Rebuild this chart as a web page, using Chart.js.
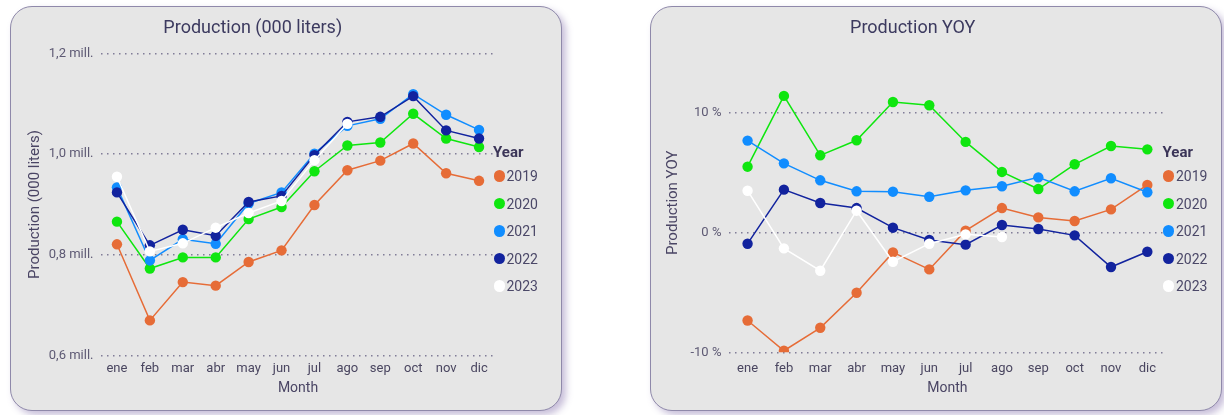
<!DOCTYPE html>
<html>
<head>
<meta charset="utf-8">
<script src="https://cdn.jsdelivr.net/npm/chart.js@4/dist/chart.umd.min.js"></script>
<style>
  html, body { margin: 0; padding: 0; background: #ffffff; width: 1224px; height: 415px; overflow: hidden; font-family: Roboto, sans-serif; }
  .card { position: absolute; box-sizing: border-box; background: #e6e6e6; border: 1.5px solid #8f89aa; border-radius: 22px; box-shadow: 4px 4px 7px rgba(130,110,170,0.45); }
  canvas { position: absolute; }
  .legend { position: absolute; top: 0; font-family: Roboto, sans-serif; }
  .legend .ttl { position: absolute; left: 0; top: 143px; font-size: 15px; line-height: 18px; font-weight: bold; color: #3b3558; white-space: nowrap; }
  .legend .dot { position: absolute; width: 11.4px; height: 11.4px; border-radius: 50%; }
  .legend .txt { position: absolute; font-size: 14px; line-height: 16px; color: #4b4868; white-space: nowrap; }
</style>
</head>
<body>
<div class="card" style="left:10px;top:6px;width:552px;height:405px"></div>
<div class="card" style="left:650px;top:6px;width:572px;height:405px"></div>
<canvas id="prodChart" style="left:10px;top:6px;width:552px;height:405px" width="552" height="405"></canvas>
<canvas id="yoyChart" style="left:650px;top:6px;width:572px;height:405px" width="572" height="405"></canvas>
<div class="legend" id="prodLegend" style="left:493px"></div>
<div class="legend" id="yoyLegend" style="left:1162.5px"></div>

<script>
// Month categories and year series
const months = ['ene', 'feb', 'mar', 'abr', 'may', 'jun', 'jul', 'ago', 'sep', 'oct', 'nov', 'dic'];
const years = ['2019', '2020', '2021', '2022', '2023'];
const yearColors = ['#E66C37', '#0FE60F', '#118DFF', '#12239E', '#FFFFFF'];

// Monthly production (000 liters)
const prod2019 = [821000, 670000, 746000, 739000, 786000, 809000, 899000, 968000, 987000, 1021000, 962000, 947000];
const prod2020 = [866000, 773000, 795000, 795000, 871000, 895000, 966000, 1017000, 1023000, 1080000, 1031000, 1014000];
const prod2021 = [934000, 789000, 831000, 822000, 902000, 924000, 1001000, 1056000, 1070000, 1119000, 1078000, 1048000];
const prod2022 = [924000, 819000, 850000, 838000, 905000, 917000, 998000, 1064000, 1074000, 1115000, 1047000, 1031000];
const prod2023 = [955000, 807000, 823000, 854000, 883000, 907000, 988000, 1060000];

// Year-over-year change (%)
const yoy2019 = [-7.34, -9.87, -7.95, -5.02, -1.65, -3.07, 0.17, 2.06, 1.28, 0.98, 1.95, 3.99];
const yoy2020 = [5.52, 11.44, 6.47, 7.73, 10.93, 10.66, 7.59, 5.08, 3.65, 5.72, 7.25, 6.97];
const yoy2021 = [7.70, 5.80, 4.38, 3.46, 3.43, 3.01, 3.54, 3.88, 4.63, 3.46, 4.55, 3.38];
const yoy2022 = [-0.92, 3.60, 2.48, 2.06, 0.42, -0.61, -1.00, 0.64, 0.31, -0.22, -2.87, -1.59];
const yoy2023 = [3.51, -1.31, -3.18, 1.84, -2.43, -0.92, -0.14, -0.36];

// Axis ticks
const prodTicks = [600000, 800000, 1000000, 1200000];
const yoyTicks = [-10, 0, 10];

Chart.defaults.font.family = 'Roboto, sans-serif';

const TITLE_COLOR = '#3c3a5f';
const TICK_COLOR = '#5e5a74';
const AXIS_TITLE_COLOR = '#4a4564';
const GRID_COLOR = 'rgba(95,90,125,0.75)';

function makeDatasets(seriesList) {
  return seriesList.map((data, i) => ({
    label: years[i],
    data: data,
    borderColor: yearColors[i],
    backgroundColor: yearColors[i],
    pointBackgroundColor: yearColors[i],
    pointBorderWidth: 0,
    pointRadius: 5.2,
    borderWidth: 1.5,
    tension: 0,
    order: seriesList.length - i   // later years drawn on top
  }));
}

function buildLegend(el, datasets) {
  const ttl = document.createElement('div');
  ttl.className = 'ttl';
  ttl.textContent = 'Year';
  el.appendChild(ttl);
  const centers = [176, 203.5, 231, 258.5, 286];
  datasets.forEach((ds, i) => {
    const dot = document.createElement('div');
    dot.className = 'dot';
    dot.style.background = ds.borderColor;
    dot.style.left = (6.3 - 5.7) + 'px';
    dot.style.top = (centers[i] - 5.7) + 'px';
    el.appendChild(dot);
    const txt = document.createElement('div');
    txt.className = 'txt';
    txt.textContent = ds.label;
    txt.style.left = '13.5px';
    txt.style.top = (centers[i] - 8) + 'px';
    el.appendChild(txt);
  });
}

function baseOptions(cfg) {
  return {
    responsive: false,
    animation: false,
    events: [],
    layout: { padding: { left: cfg.padLeft, right: cfg.padRight, top: 0, bottom: 0 } },
    plugins: {
      legend: { display: false },
      tooltip: { enabled: false },
      title: {
        display: true,
        text: cfg.title,
        color: TITLE_COLOR,
        font: { size: 18, weight: 'normal' },
        padding: { top: 11.7, bottom: 14 }
      }
    },
    scales: {
      x: {
        type: 'category',
        offset: true,
        grid: { display: false, drawTicks: false },
        border: { display: false },
        ticks: { color: '#4a4660', font: { size: 13 }, padding: cfg.xTickPad, maxRotation: 0, autoSkip: false },
        title: { display: true, text: 'Month', color: AXIS_TITLE_COLOR, font: { size: 14 }, padding: { top: 0, bottom: 14.3 } },
        afterFit: (s) => { s.height = cfg.xHeight; }
      },
      y: {
        min: cfg.yMin,
        max: cfg.yMax,
        grid: { color: GRID_COLOR, lineWidth: 1.5, drawTicks: false },
        border: { display: false, dash: [1.5, 4.5] },
        ticks: { color: TICK_COLOR, font: { size: 13 }, padding: cfg.yTickPad, callback: cfg.fmt },
        afterBuildTicks: (s) => { s.ticks = cfg.ticks.map(v => ({ value: v })); },
        title: { display: true, text: cfg.yTitle, color: AXIS_TITLE_COLOR, font: { size: 15 }, padding: { top: cfg.yTitlePad, bottom: 0 } },
        afterFit: (s) => { s.width = cfg.yWidth; }
      }
    }
  };
}

// Production chart
const prodSets = makeDatasets([prod2019, prod2020, prod2021, prod2022, prod2023]);
new Chart(document.getElementById('prodChart'), {
  type: 'line',
  data: { labels: months, datasets: prodSets },
  options: baseOptions({
    title: 'Production (000 liters)',
    padLeft: 0, padRight: 66.5,
    xHeight: 55.3, xTickPad: 4.8,
    yMin: 600000, yMax: 1200000, ticks: prodTicks,
    yWidth: 90.5, yTickPad: 7, yTitlePad: 16,
    yTitle: 'Production (000 liters)',
    fmt: (v) => (v / 1000000).toFixed(1).replace('.', ',') + ' mill.'
  })
});
buildLegend(document.getElementById('prodLegend'), prodSets);

// YOY chart
const yoySets = makeDatasets([yoy2019, yoy2020, yoy2021, yoy2022, yoy2023]);
new Chart(document.getElementById('yoyChart'), {
  type: 'line',
  data: { labels: months, datasets: yoySets },
  options: baseOptions({
    title: 'Production YOY',
    padLeft: 10, padRight: 56.5,
    xHeight: 58.7, xTickPad: 8.2,
    yMin: -10, yMax: 15, ticks: yoyTicks,
    yWidth: 69.4, yTickPad: 8, yTitlePad: 4.5,
    yTitle: 'Production YOY',
    fmt: (v) => v + ' %'
  })
});
buildLegend(document.getElementById('yoyLegend'), yoySets);
</script>
</body>
</html>
